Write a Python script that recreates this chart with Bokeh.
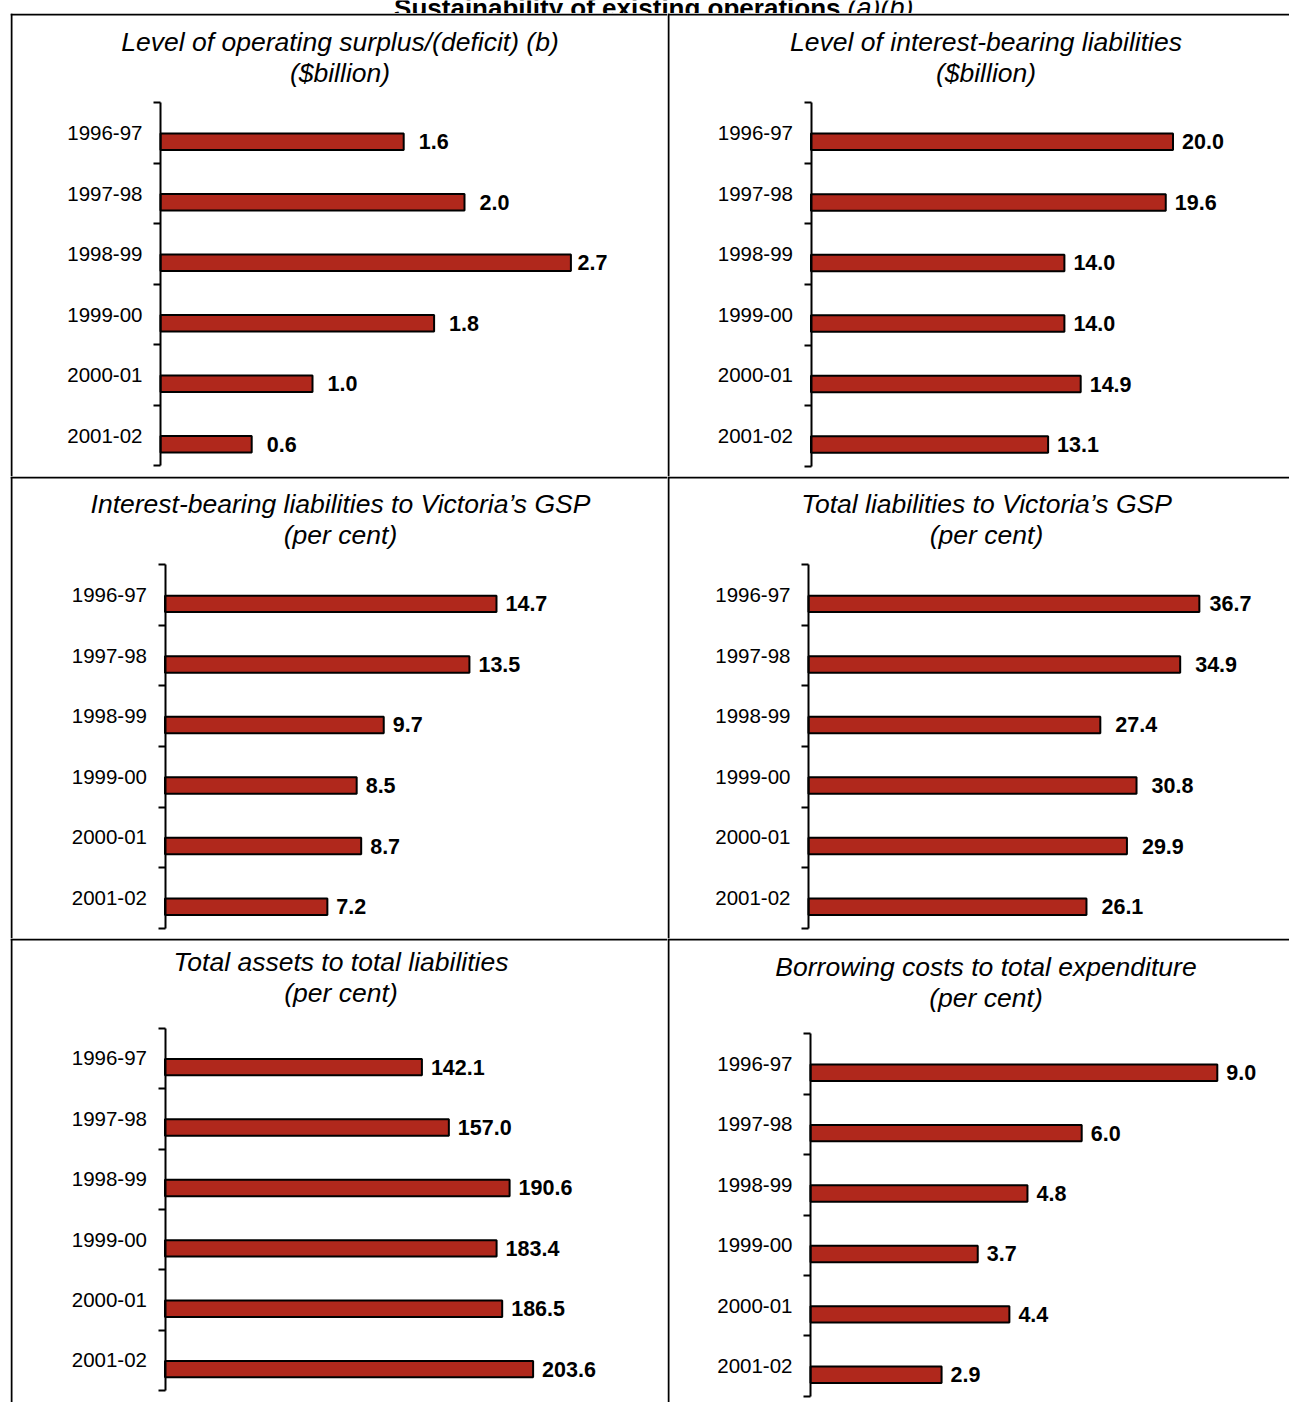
from bokeh.plotting import figure
from bokeh.models import (Range1d, LinearAxis, FixedTicker, Span, Label,
                          ColumnDataSource, Spacer)
from bokeh.layouts import row, column
from bokeh.embed import file_html
from bokeh.resources import INLINE
from bokeh.core.properties import value

# ---------------- data ----------------
categories = ["1996-97", "1997-98", "1998-99", "1999-00", "2000-01", "2001-02"]
operating_surplus = [1.6, 2.0, 2.7, 1.8, 1.0, 0.6]
interest_bearing_liab = [20.0, 19.6, 14.0, 14.0, 14.9, 13.1]
ibl_to_gsp = [14.7, 13.5, 9.7, 8.5, 8.7, 7.2]
total_liab_to_gsp = [36.7, 34.9, 27.4, 30.8, 29.9, 26.1]
assets_to_liab = [142.1, 157.0, 190.6, 183.4, 186.5, 203.6]
borrowing_costs = [9.0, 6.0, 4.8, 3.7, 4.4, 2.9]

titles = [
    ("Level of operating surplus/(deficit) (b)", "($billion)"),
    ("Level of interest-bearing liabilities", "($billion)"),
    ("Interest-bearing liabilities to Victoria\u2019s GSP", "(per cent)"),
    ("Total liabilities to Victoria\u2019s GSP", "(per cent)"),
    ("Total assets to total liabilities", "(per cent)"),
    ("Borrowing costs to total expenditure", "(per cent)"),
]
series = [operating_surplus, interest_bearing_liab, ibl_to_gsp,
          total_liab_to_gsp, assets_to_liab, borrowing_costs]

# ---------------- style / layout ----------------
FONT = "Liberation Sans"
BAR = "#B0281C"

# cell: (x0, y0, w, h) in page pixels; axis_x, top tick, band height, px per unit
# lab_max: right-most page x where a value label may start (plot-area clamp)
geom = [
    dict(cell=(10, 13, 657, 463), border_x=11, axis_x=160.0, top=102.3, band=60.5, scale=152.0, tx=339.5, ty=(41, 72), off=15, lab_max=577),
    dict(cell=(667, 13, 622, 463), border_x=668, axis_x=810.5, top=102.3, band=60.55, scale=18.1, tx=985.5, ty=(41, 72), off=9, lab_max=9999),
    dict(cell=(10, 476, 657, 462), border_x=11, axis_x=164.5, top=564.3, band=60.56, scale=22.55, tx=340.0, ty=(503, 534), off=9, lab_max=9999),
    dict(cell=(667, 476, 622, 462), border_x=668, axis_x=808.0, top=564.3, band=60.56, scale=10.65, tx=986.0, ty=(503, 534), off=15, lab_max=1209),
    dict(cell=(10, 938, 657, 464), border_x=11, axis_x=164.5, top=1027.7, band=60.4, scale=1.808, tx=340.5, ty=(961, 992), off=9, lab_max=9999),
    dict(cell=(667, 938, 622, 464), border_x=668, axis_x=810.0, top=1033.3, band=60.4, scale=45.2, tx=985.5, ty=(966.7, 997), off=9, lab_max=9999),
]


def make_cell(vals, title_pair, g):
    x0, y0, w, h = g["cell"]
    ax, sc, top, band = g["axis_x"], g["scale"], g["top"], g["band"]
    n = len(categories)

    def dx(px):
        return (px - ax) / sc

    def dy(py):
        return (py - top) / band - 0.5

    p = figure(width=w, height=h, output_backend="svg", toolbar_location=None,
               x_range=Range1d(dx(x0), dx(x0 + w)),
               y_range=Range1d(dy(y0 + h), dy(y0)),
               x_axis_type=None, y_axis_type=None, min_border=0)
    p.outline_line_color = None
    p.background_fill_color = "white"
    p.border_fill_color = "white"

    yax = LinearAxis(
        ticker=FixedTicker(ticks=list(range(n)),
                           minor_ticks=[i - 0.5 for i in range(n + 1)]),
        major_label_overrides={i: c for i, c in enumerate(categories)},
        fixed_location=0, bounds=(-0.5, n - 0.5),
        axis_line_width=2, axis_line_color="black",
        major_tick_out=0, major_tick_in=0,
        minor_tick_out=7, minor_tick_in=0,
        minor_tick_line_width=2, minor_tick_line_color="black",
        major_label_standoff=11, major_label_text_font=FONT,
        major_label_text_font_size="20.5px", major_label_text_color="black",
    )
    p.add_layout(yax, "left")

    offs = [min(g["off"], g["lab_max"] - (ax + v * sc)) for v in vals]
    src = ColumnDataSource(dict(
        y=[i + 0.145 for i in range(n)],
        v=vals,
        lab=[f"{v:.1f}" for v in vals],
        off=offs,
    ))
    p.hbar(y="y", left=0, right="v", height=0.272, source=src,
           fill_color=BAR, line_color="black", line_width=2)
    p.text(x="v", y="y", text="lab", source=src, x_offset="off",
           text_align="left", text_baseline="middle",
           text_font=value(FONT), text_font_size="21.5px",
           text_font_style="bold", text_color="black")

    # cell borders
    p.add_layout(Span(location=dx(g["border_x"]), dimension="height",
                      line_color="black", line_width=2))
    p.add_layout(Span(location=dy(y0 + 1), dimension="width",
                      line_color="black", line_width=2))

    for t, ty in zip(title_pair, g["ty"]):
        p.add_layout(Label(x=dx(g["tx"]), y=dy(ty), text=t,
                           text_align="center", text_baseline="middle",
                           text_font=FONT, text_font_size="26.5px",
                           text_font_style="italic", text_color="black"))
    return p


cells = [make_cell(v, t, g) for v, t, g in zip(series, titles, geom)]

# page title (cut at the top of the page, as in the source)
tfig = figure(width=1289, height=13, output_backend="svg", toolbar_location=None,
              x_range=Range1d(0, 1289), y_range=Range1d(13, 0),
              x_axis_type=None, y_axis_type=None, min_border=0)
tfig.outline_line_color = None
tfig.text(x=[840], y=[7.5], text=["Sustainability of existing operations"],
          text_align="right", text_baseline="alphabetic",
          text_font=value(FONT), text_font_size="26px",
          text_font_style="bold", text_color="black")
tfig.text(x=[847], y=[7.5], text=["(a)(b)"],
          text_align="left", text_baseline="alphabetic",
          text_font=value(FONT), text_font_size="27px",
          text_font_style="italic", text_color="black")

grid = column(row(cells[0], cells[1]), row(cells[2], cells[3]),
              row(cells[4], cells[5]))
layout = column(tfig, row(Spacer(width=10, height=1389), grid))

open("out.html", "w").write(file_html(layout, INLINE))
